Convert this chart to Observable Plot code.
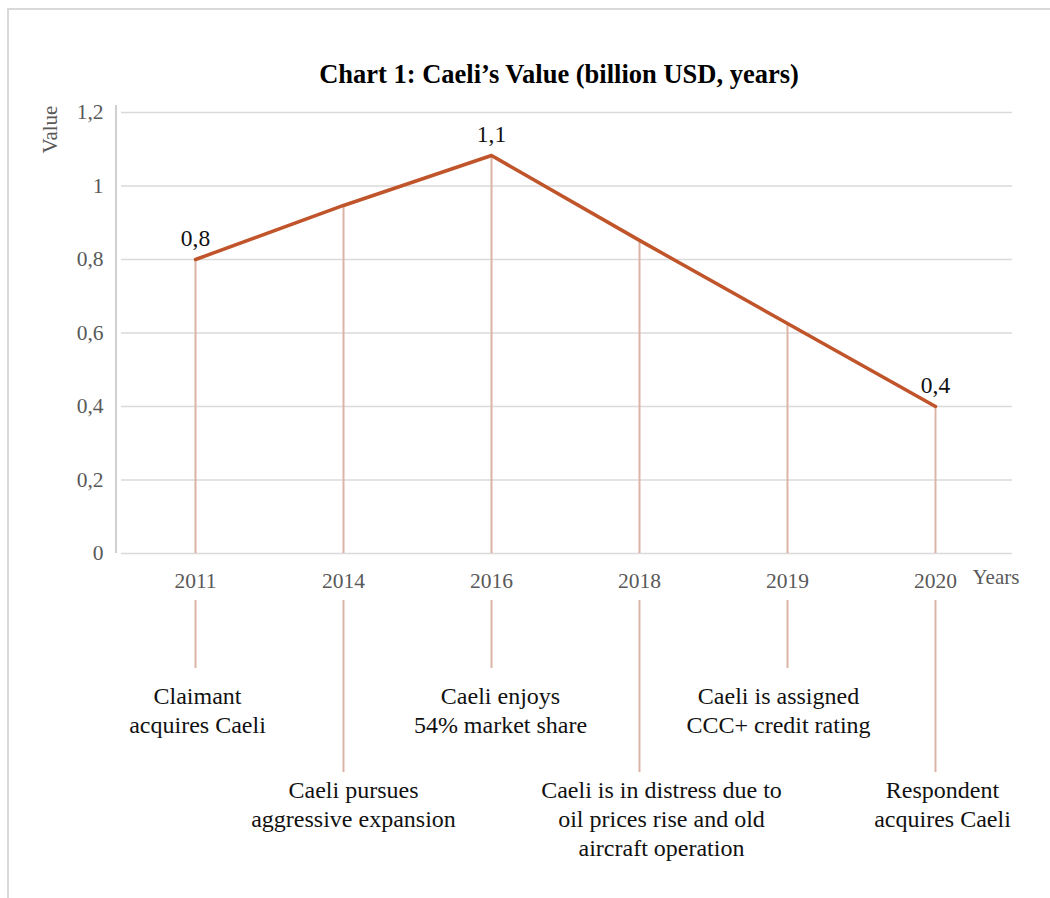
<!DOCTYPE html>
<html>
<head>
<meta charset="utf-8">
<script src="https://cdn.jsdelivr.net/npm/d3@7"></script>
<script src="https://cdn.jsdelivr.net/npm/@observablehq/plot@0.6"></script>
<style>
  html, body { margin: 0; padding: 0; background: #fff; }
  #wrap { position: relative; width: 1050px; height: 898px; overflow: hidden; }
  #border { position: absolute; left: 7px; top: 8px; width: 1100px; height: 1000px;
            border-top: 2px solid #d9d9d9; border-left: 2px solid #d9d9d9; }
  #wrap svg { position: absolute; left: 0; top: 0; }
</style>
</head>
<body>
<div id="wrap"><div id="border"></div></div>
<script>
// ---- data ----
const years = ["2011", "2014", "2016", "2018", "2019", "2020"];
const values = [0.8, 0.947, 1.083, 0.852, 0.626, 0.4];
const valueLabels = ["0,8", "", "1,1", "", "", "0,4"];
const yTicks = [0, 0.2, 0.4, 0.6, 0.8, 1, 1.2];
const events = [
  "Claimant\nacquires Caeli",
  "Caeli pursues\naggressive expansion",
  "Caeli enjoys\n54% market share",
  "Caeli is in distress due to\noil prices rise and old\naircraft operation",
  "Caeli is assigned\nCCC+ credit rating",
  "Respondent\nacquires Caeli"
];
const eventTier = [1, 2, 1, 2, 1, 2];
const titleText = "Chart 1: Caeli\u2019s Value (billion USD, years)";

// ---- layout ----
const W = 1050, H = 898;
const M = {left: 121, right: 38, top: 112, bottom: 345};
const font = "'Liberation Serif', 'Times New Roman', serif";
const lineColor = "#c0542a";
const dropColor = "#dbb4a5";
const gridColor = "#dadada";
const connectorTop = 600;                       // px
const tierRuleEnd = {1: 668, 2: 772};           // px
const tierTextTop = {1: 683, 2: 777};           // px
const noteShift = [2, 10, 9, 22, -9, 7];        // px, horizontal nudge of notes

const yOpts = {domain: [0, 1.2], range: [H - M.bottom, M.top]};
const yScale = Plot.scale({y: yOpts});
const fmt = d => d3.format(".1~f")(d).replace(".", ",");

const data = years.map((year, i) => ({
  year, value: values[i], label: valueLabels[i], note: events[i], tier: eventTier[i]
}));

const noteMarks = data.map((d, i) => Plot.text([d], {
  x: "year",
  y: yScale.invert(tierTextTop[d.tier]),
  text: "note",
  lineAnchor: "top",
  lineHeight: 1.2,
  fontSize: 24,
  fill: "#111",
  dx: noteShift[i]
}));

const plot = Plot.plot({
  width: W,
  height: H,
  marginLeft: M.left,
  marginRight: M.right,
  marginTop: M.top,
  marginBottom: M.bottom,
  style: {fontFamily: font, fontSize: "21px", color: "#595959", background: "transparent", overflow: "visible"},
  x: {type: "point", domain: years, range: [193, 936], padding: 0, label: null},
  y: {...yOpts, label: null},
  marks: [
    Plot.ruleY(yTicks, {stroke: gridColor, strokeWidth: 1.6}),
    Plot.axisY({ticks: yTicks, tickFormat: fmt, tickSize: 0, tickPadding: 18, label: null, fontSize: 21.5}),
    Plot.axisX({tickSize: 0, tickPadding: 19, label: null, fontSize: 21.5}),
    Plot.ruleX(data, {x: "year", y1: 0, y2: "value", stroke: dropColor, strokeWidth: 2}),
    Plot.ruleX(data, {
      x: "year",
      y1: yScale.invert(connectorTop),
      y2: d => yScale.invert(tierRuleEnd[d.tier]),
      stroke: dropColor, strokeWidth: 2
    }),
    Plot.line(data, {x: "year", y: "value", stroke: lineColor, strokeWidth: 3.5, strokeLinejoin: "round"}),
    Plot.text(data.filter(d => d.label), {x: "year", y: "value", text: "label", dy: -21, fontSize: 23.5, fill: "#111"}),
    ...noteMarks,
    Plot.text([titleText], {frameAnchor: "top", dy: -38, dx: -8, lineAnchor: "middle",
      fontSize: 26.5, fontWeight: "bold", fill: "#000"}),
    Plot.text(["Value"], {frameAnchor: "top-left", dx: -71, dy: 17, rotate: -90,
      textAnchor: "middle", lineAnchor: "middle", fontSize: 21, fill: "#595959"}),
    Plot.text(["Years"], {frameAnchor: "bottom-right", dx: -40, dy: 24, textAnchor: "start",
      lineAnchor: "middle", fontSize: 21, fill: "#595959"})
  ]
});

// y axis line, positioned from the plot's own scale
const ys = plot.scale("y");
d3.select(plot).append("line")
  .attr("x1", M.left - 5).attr("x2", M.left - 5)
  .attr("y1", ys.apply(1.2) - 7).attr("y2", ys.apply(0))
  .attr("stroke", "#d0d0d0").attr("stroke-width", 2);

document.getElementById("wrap").appendChild(plot);
</script>
</body>
</html>
